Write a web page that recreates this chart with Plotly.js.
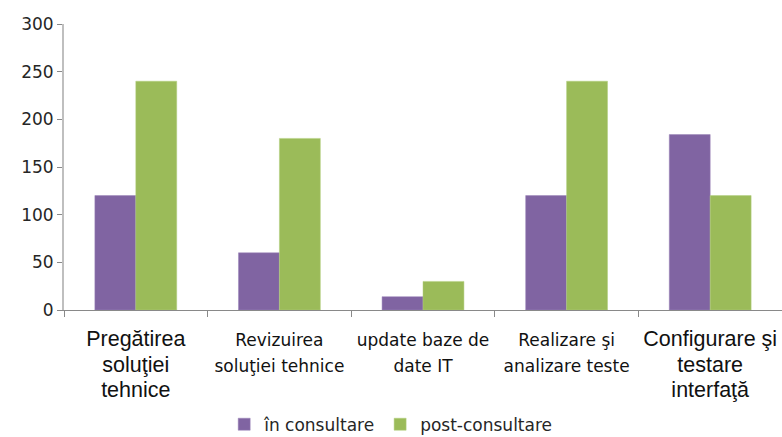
<!DOCTYPE html>
<html>
<head>
<meta charset="utf-8">
<script src="https://cdn.plot.ly/plotly-3.0.1.min.js"></script>
<style>html,body{margin:0;padding:0;background:#fff;}#chart{width:782px;height:437px;}</style>
</head>
<body>
<div id="chart"></div>
<script>
var categories = ["Pregătirea soluţiei tehnice", "Revizuirea soluţiei tehnice", "update baze de date IT", "Realizare şi analizare teste", "Configurare şi testare interfaţă"];
var tickLabels = [
  '<span style="font-family:Liberation Sans, Arial;font-size:21.5px;">Pregătirea<br>soluţiei<br>tehnice</span>',
  '<span style="font-size:17px;">Revizuirea<br>soluţiei tehnice</span>',
  '<span style="font-size:17px;">update baze de<br>date IT</span>',
  '<span style="font-size:17px;">Realizare şi<br>analizare teste</span>',
  '<span style="font-family:Liberation Sans, Arial;font-size:21.5px;">Configurare şi<br>testare<br>interfaţă</span>'
];
var inConsultare = [120, 60, 14, 120, 184];
var postConsultare = [240, 180, 30, 240, 120];

var traces = [
  {type: 'bar', name: 'în consultare', x: categories, y: inConsultare,
   marker: {color: '#8064A2', line: {color: '#9a85b8', width: 0.5}}},
  {type: 'bar', name: 'post-consultare', x: categories, y: postConsultare,
   marker: {color: '#9BBB59', line: {color: '#b3cf7f', width: 0.5}}}
];

var layout = {
  width: 782, height: 437,
  margin: {l: 64, r: 0, t: 24, b: 127, autoexpand: false},
  paper_bgcolor: '#fff', plot_bgcolor: '#fff',
  font: {family: 'DejaVu Sans', color: '#262626'},
  barmode: 'group',
  bargap: 0.43, bargroupgap: 0,
  showlegend: true,
  legend: {orientation: 'h', x: 0.455, xanchor: 'center', y: -0.338, yanchor: 'top',
           font: {size: 17, family: 'DejaVu Sans', color: '#262626'}, traceorder: 'normal'},
  xaxis: {
    type: 'category', automargin: false,
    tickmode: 'array', tickvals: categories, ticktext: tickLabels,
    tickson: 'boundaries', ticks: 'outside', ticklen: 6, tickcolor: '#898989',
    ticklabelstandoff: 12,
    showline: true, linecolor: '#898989', linewidth: 1,
    showgrid: false, zeroline: false,
    tickfont: {size: 19.5, family: 'DejaVu Sans', color: '#111'},
    tickangle: 0
  },
  yaxis: {
    range: [0, 300], tickmode: 'array', tickvals: [0, 50, 100, 150, 200, 250, 300],
    ticks: 'outside', ticklen: 5, tickcolor: '#898989', automargin: false,
    showline: true, linecolor: '#BFBFBF', linewidth: 2,
    showgrid: false, zeroline: false,
    tickfont: {size: 17, family: 'DejaVu Sans', color: '#262626'}
  }
};

Plotly.newPlot('chart', traces, layout, {displayModeBar: false, staticPlot: true});
</script>
</body>
</html>
